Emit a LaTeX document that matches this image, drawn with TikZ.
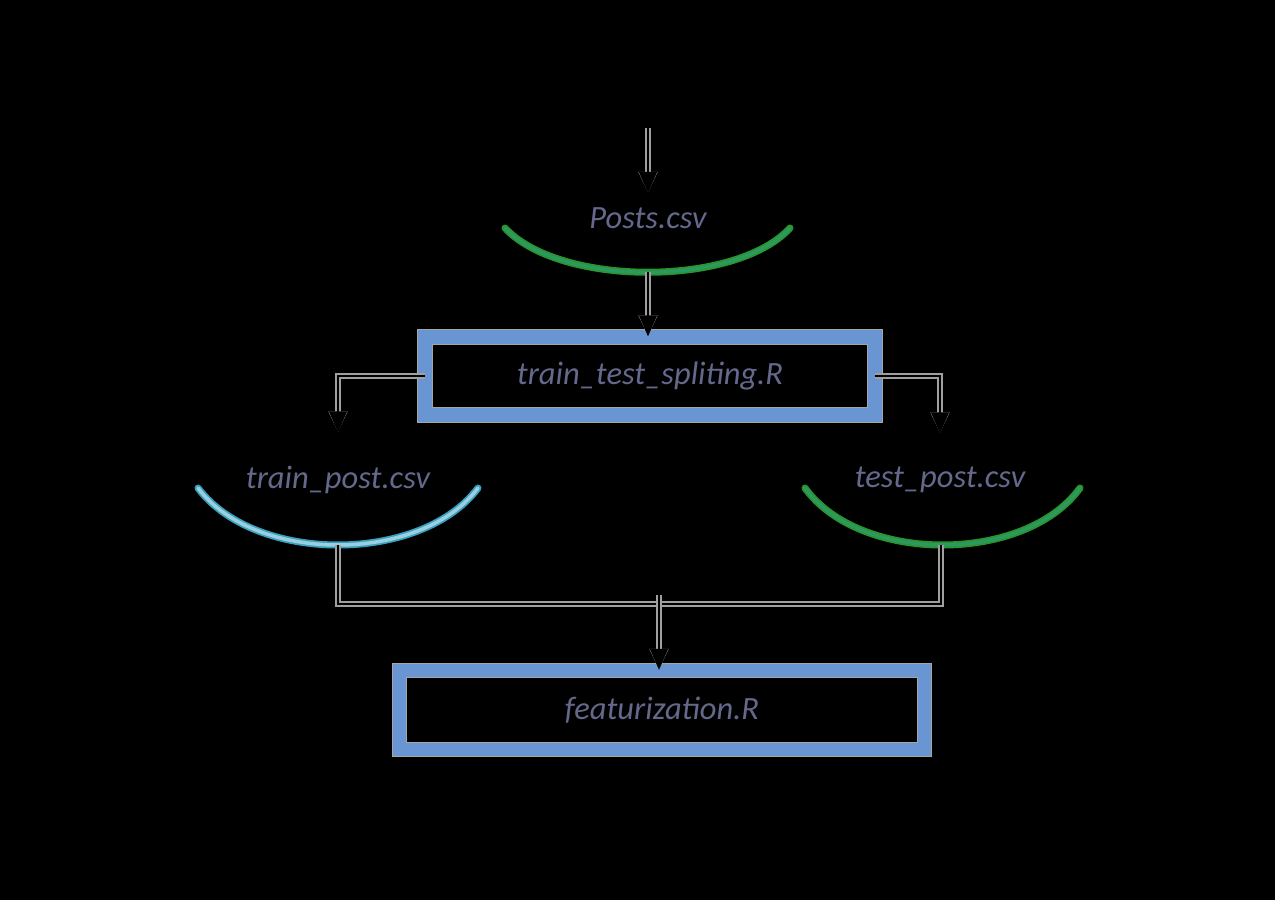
\documentclass[tikz,border=0pt]{standalone}
\usepackage{fontspec}
\setmainfont{Carlito}
\usetikzlibrary{arrows.meta}

\definecolor{boxblue}{RGB}{105,150,210}
\definecolor{arcgreen}{RGB}{40,150,45}
\definecolor{arcteal}{RGB}{55,160,190}
\definecolor{labelink}{RGB}{100,105,140}

\tikzset{
  flow/.style={line width=1.5pt, black, preaction={draw=gray!75, line width=3.4pt}},
  flowarrow/.style={flow, -{Triangle[length=12pt,width=10pt]}},
  script/.style={draw=gray!70, double=boxblue, double distance=7.5pt, line width=0.6pt,
    font=\itshape\fontsize{18.5}{22}\selectfont, text=labelink},
  data/.style={font=\itshape\fontsize{18.5}{22}\selectfont, text=labelink, inner sep=2pt},
  dataarc/.style={line width=1pt, line cap=round, double distance=2pt}
}

\begin{document}
\begin{tikzpicture}[x=0.02cm, y=-0.02cm]
  % background and page size
  \fill[black] (0,0) rectangle (1275,900);
  \useasboundingbox (0,0) rectangle (1275,900);

  % input file
  \coordinate (start) at (648,128);
  \node[data] (posts) at (648,218) {Posts.csv};
  \draw[dataarc, draw=arcgreen, double=arcgreen!65!arcteal] (505,228) .. controls (560,287) and (736,287) .. (790,228);
  \coordinate (postsb) at (648,272);

  % splitting script
  \node[script, minimum width=9.0cm, minimum height=1.56cm] (split) at (650,376) {train\_test\_spliting.R};

  % train and test files
  \node[data] (trainp) at (338,480) {train\_post.csv};
  \draw[dataarc, draw=arcteal, double=arcteal!50!white] (198,488) .. controls (255,564) and (421,564) .. (478,488);
  \coordinate (trainb) at (338,545);

  \node[data] (testp) at (940,480) {test\_post.csv};
  \draw[dataarc, draw=arcgreen, double=arcgreen!65!arcteal] (805,488) .. controls (860,564) and (1025,564) .. (1080,488);
  \coordinate (testb) at (941,545);

  % featurization script
  \node[script, minimum width=10.5cm, minimum height=1.58cm] (feat) at (662,710) {featurization.R};
  \coordinate (merge) at (659,595);

  % connectors
  \draw[flowarrow, shorten >=6pt] (start) -- (posts);
  \draw[flowarrow] (postsb) -- (postsb |- split.north);
  \draw[flowarrow, shorten >=17pt] (split.west) -| (trainp.north);
  \draw[flowarrow, shorten >=17pt] (split.east) -| (testp.north);
  \draw[flow] (trainb) |- (merge |- 0,604) -| (testb);
  \draw[flowarrow] (merge) -- (merge |- feat.north);
\end{tikzpicture}
\end{document}
